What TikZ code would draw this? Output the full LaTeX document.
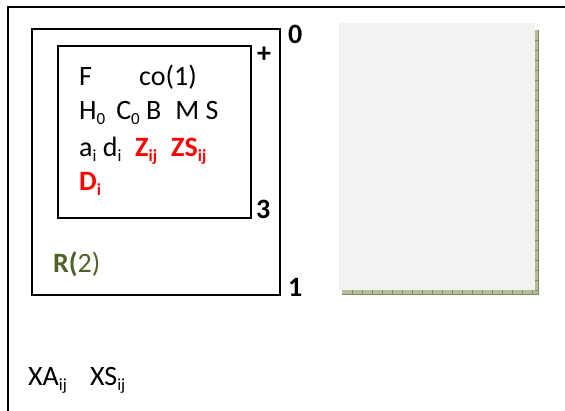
\documentclass[tikz,border=0pt]{standalone}
\usepackage{fontspec}
\setmainfont{Carlito}
\definecolor{zred}{HTML}{FF0000}
\definecolor{rgreen}{HTML}{4F6228}
\definecolor{pagegray}{HTML}{F2F2F2}
\definecolor{shad}{HTML}{B3BD98}
\definecolor{shadtick}{HTML}{7E8E60}
\newcommand{\lo}[1]{\raisebox{-0.2em}{\fontsize{17}{17}\selectfont #1}}
\begin{document}
\begin{tikzpicture}[x=1pt,y=-1pt,
  txt/.style={anchor=base west,inner sep=0pt,font=\fontsize{28}{32}\selectfont},
  lbl/.style={anchor=base west,inner sep=0pt,font=\fontsize{28}{32}\selectfont\bfseries},
  frame/.style={draw=black,line width=1.3pt}]
\useasboundingbox (0,0) rectangle (565,410);
\fill[white] (0,0) rectangle (565,410);
% outer frame (only top and left visible)
\coordinate (otr) at (565,7);
\coordinate (otl) at (8,7);
\coordinate (obl) at (8,410);
\draw[line width=2pt,line cap=rect] (otr) -- (otl) -- (obl);
% middle box
\node[frame,minimum width=248pt,minimum height=266pt,inner sep=0pt] (mid) at (156,162) {};
% inner box
\node[frame,minimum width=193pt,minimum height=172pt,inner sep=0pt] (inner) at (154.5,132) {};
% labels
\node[lbl] (l0) at (288,43) {0};
\node[lbl] (lplus) at (257,62) {+};
\node[lbl] (l3) at (256,218) {3};
\node[lbl] (l1) at (288,296) {1};
% text inside
\node[txt] (tF) at (79,85) {F};
\node[txt] (tco) at (139,85) {co(1)};
\node[txt] (tH) at (79,119) {H\lo{0}\, C\lo{0} B\; M S};
\node[txt] (ta) at (79,156) {a\lo{i} d\lo{i}};
\node[txt,text=zred,font=\fontsize{28}{32}\selectfont\bfseries] (tZ) at (135,156) {Z\lo{ij}};
\node[txt,text=zred,font=\fontsize{28}{32}\selectfont\bfseries] (tZS) at (171,156) {ZS\lo{ij}};
\node[txt,text=zred,font=\fontsize{28}{32}\selectfont\bfseries] (tD) at (79,190) {D\lo{i}};
\node[txt,text=rgreen] (tR) at (53,272) {\textbf{R(}2)};
\node[txt] (tXA) at (28,385) {XA\lo{ij}};
\node[txt] (tXS) at (90,385) {XS\lo{ij}};
% shadow of the page
\fill[shad] (535,30) rectangle (538.5,294);
\fill[shad] (342,290) rectangle (538.5,294);
\foreach \y in {40,50,...,290} \draw[shadtick,line width=0.5pt] (535,\y) -- (538.5,\y);
\foreach \x in {352,362,...,535} \draw[shadtick,line width=0.5pt] (\x,290) -- (\x,294);
\draw[shadtick,line width=0.4pt] (538.5,30) -- (538.5,294) -- (342,294);
% page
\node[fill=pagegray,minimum width=196pt,minimum height=267pt,inner sep=0pt] (page) at (437,156.5) {};
\end{tikzpicture}
\end{document}
